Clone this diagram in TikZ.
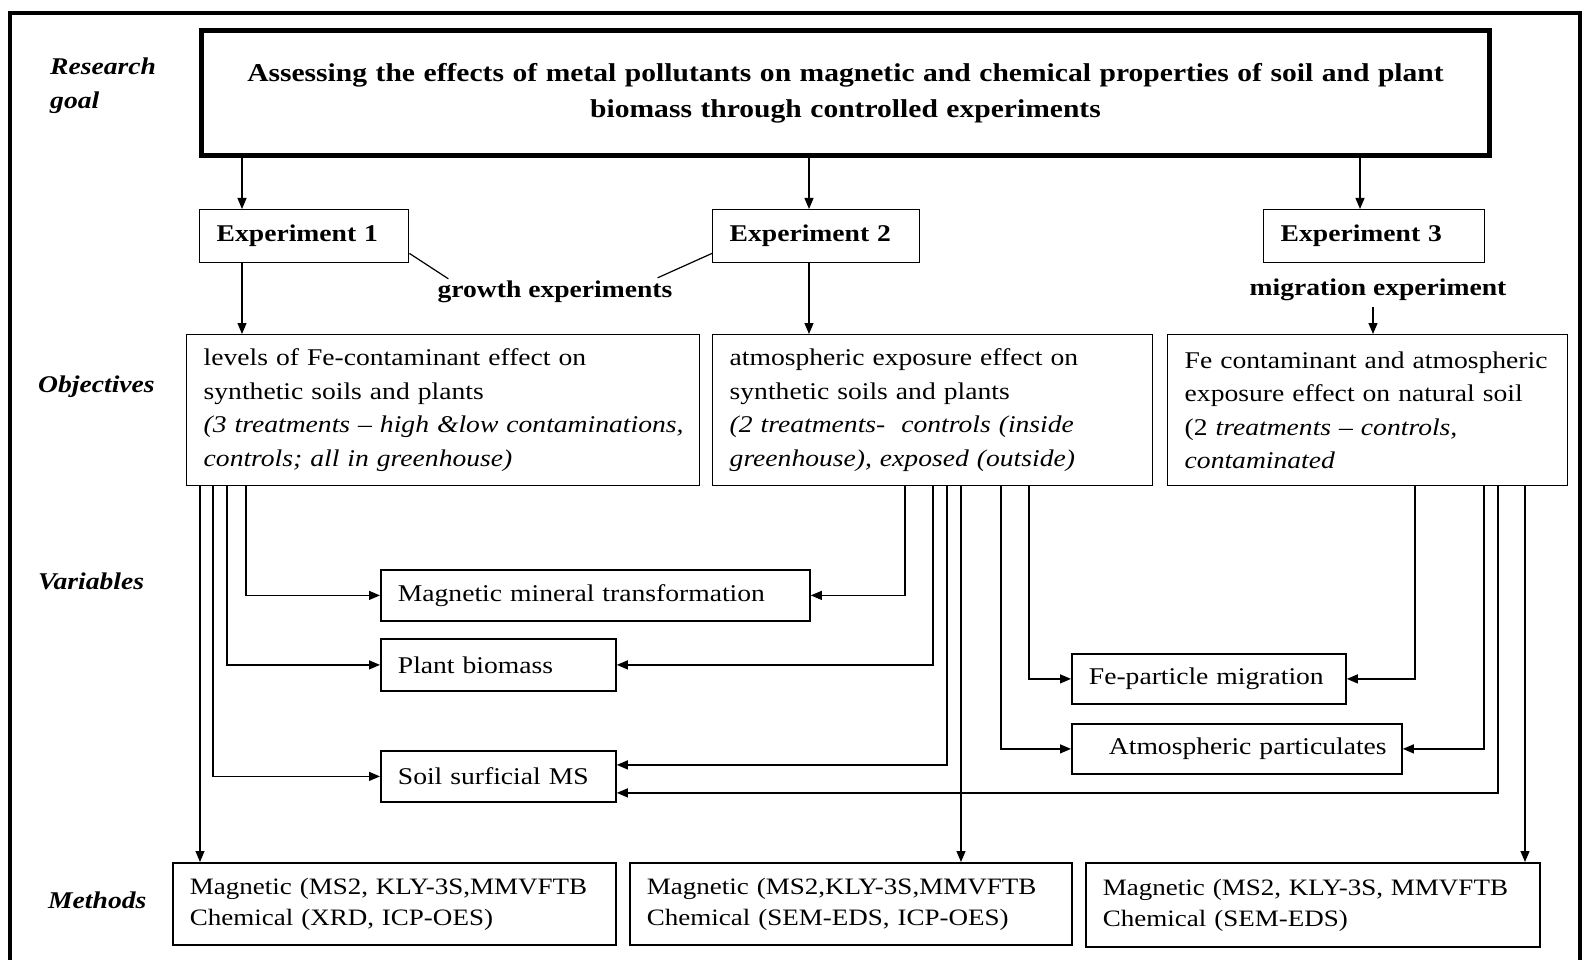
\documentclass[tikz,border=0pt]{standalone}
\usepackage{fontspec}
\setmainfont{Liberation Serif}[FakeStretch=1.15]
\usetikzlibrary{arrows.meta}
\newcommand\oneline[1]{\mbox{#1}}
\begin{document}
\begin{tikzpicture}[x=1pt,y=-1pt,
  txt/.style={font=\fontsize{24pt}{33.5pt}\selectfont},
  box/.style={txt, draw, line width=1.4pt, inner xsep=17pt, inner ysep=0pt, align=left, anchor=north west},
  varbox/.style={box, line width=1.8pt},
  methbox/.style={box, line width=1.8pt, font=\fontsize{23.5pt}{31pt}\selectfont},
  expbox/.style={box, font=\fontsize{24pt}{30pt}\selectfont\bfseries},
  lab/.style={font=\fontsize{24pt}{34pt}\selectfont\bfseries\itshape, align=left, anchor=west, inner sep=0pt},
  note/.style={font=\fontsize{24pt}{30pt}\selectfont\bfseries, inner sep=0pt},
  ln/.style={line width=1.2pt},
  arr/.style={ln, -{Triangle[length=11pt,width=9pt]}}
]
\useasboundingbox (0,0) rectangle (1585,960);
\draw[line width=4.5pt] (10,962) -- (10,13) -- (1580,13) -- (1580,962);

% goal
\node[box, line width=5pt, inner xsep=12pt, text width=1264pt, minimum height=125pt, align=center, font=\fontsize{25.7pt}{36pt}\selectfont\bfseries] (goal) at (199,28) {\oneline{Assessing the effects of metal pollutants on magnetic and chemical properties of soil and plant}\\biomass through controlled experiments};

% experiments
\node[expbox, text width=175pt, minimum height=53pt] (exp1) at (199,209) {Experiment 1};
\node[expbox, text width=173pt, minimum height=53pt] (exp2) at (712,209) {Experiment 2};
\node[expbox, text width=187pt, minimum height=53pt] (exp3) at (1263,209) {Experiment 3};

% objectives
\node[box, text width=479pt, minimum height=151pt] (obj1) at (186,334) {\oneline{levels of Fe-contaminant effect on}\\\oneline{synthetic soils and plants}\\\oneline{\itshape (3 treatments – high \&low contaminations,}\\\oneline{\itshape controls; all in greenhouse)}};
\node[box, text width=406pt, minimum height=151pt] (obj2) at (712,334) {\oneline{atmospheric exposure effect on}\\\oneline{synthetic soils and plants}\\\oneline{\itshape (2 treatments-\ \ controls (inside}\\\oneline{\itshape greenhouse), exposed (outside)}};
\node[box, text width=366pt, minimum height=151pt] (obj3) at (1167,334) {\oneline{Fe contaminant and atmospheric}\\\oneline{exposure effect on natural soil}\\\oneline{(2 \textit{treatments – controls,}}\\\oneline{\itshape contaminated}};

% variables
\node[varbox, text width=395pt, minimum height=51pt] (mmt) at (380,569) {\oneline{Magnetic mineral transformation}};
\node[varbox, text width=201pt, minimum height=52pt] (plant) at (380,638) {\oneline{Plant biomass}};
\node[varbox, text width=201pt, minimum height=51pt] (soil) at (380,750) {\oneline{Soil surficial MS}};
\node[varbox, text width=240pt, minimum height=50pt] (fe) at (1071,653) {\oneline{Fe-particle migration}};
\node[varbox, text width=296pt, minimum height=50pt] (atm) at (1071,723) {\oneline{\hspace*{20pt}Atmospheric particulates}};

% methods
\node[methbox, text width=409pt, minimum height=82pt] (m1) at (172,862) {\oneline{Magnetic (MS2, KLY-3S,MMVFTB}\\\oneline{Chemical (XRD, ICP-OES)}};
\node[methbox, text width=408pt, minimum height=82pt] (m2) at (629,862) {\oneline{Magnetic (MS2,KLY-3S,MMVFTB}\\\oneline{Chemical (SEM-EDS, ICP-OES)}};
\node[methbox, text width=420pt, minimum height=84pt] (m3) at (1085,862) {\oneline{Magnetic (MS2, KLY-3S, MMVFTB}\\\oneline{Chemical (SEM-EDS)}};

% row labels
\node[lab] (rg) at (50,86) {Research\\goal};
\node[lab] (objl) at (38,387) {Objectives};
\node[lab] (varl) at (38,581) {Variables};
\node[lab] (metl) at (48,900) {Methods};

% notes
\node[note] (growth) at (555,292) {growth experiments};
\node[note] (mig) at (1378,290) {migration experiment};

% coordinates on box edges
\path ([xshift=43pt]exp1.north west) coordinate (g1)
      ([xshift=97pt]exp2.north west) coordinate (g2)
      ([xshift=97pt]exp3.north west) coordinate (g3)
      ([xshift=-5pt,yshift=-6pt]mig.south) coordinate (mg)
      ([xshift=14pt]obj1.south west) coordinate (a1)
      ([xshift=27pt]obj1.south west) coordinate (a2)
      ([xshift=41pt]obj1.south west) coordinate (a3)
      ([xshift=60pt]obj1.south west) coordinate (a4)
      ([xshift=193pt]obj2.south west) coordinate (b1)
      ([xshift=221pt]obj2.south west) coordinate (b2)
      ([xshift=235pt]obj2.south west) coordinate (b3)
      ([xshift=249pt]obj2.south west) coordinate (b4)
      ([xshift=289pt]obj2.south west) coordinate (b5)
      ([xshift=317pt]obj2.south west) coordinate (b6)
      ([xshift=248pt]obj3.south west) coordinate (c1)
      ([xshift=317pt]obj3.south west) coordinate (c2)
      ([xshift=331pt]obj3.south west) coordinate (c3)
      ([xshift=358pt]obj3.south west) coordinate (c4);

% goal -> experiments
\draw[arr] (g1 |- goal.south) -- (g1);
\draw[arr] (g2 |- goal.south) -- (g2);
\draw[arr] (g3 |- goal.south) -- (g3);

% experiments -> objectives
\draw[arr] (g1 |- exp1.south) -- (g1 |- obj1.north);
\draw[arr] (g2 |- exp2.south) -- (g2 |- obj2.north);
\draw[arr] (mg) -- (mg |- obj3.north);

% growth experiments label lines
\draw[ln] ([yshift=10pt]exp1.south east) -- ([xshift=11pt,yshift=2pt]growth.north west);
\draw[ln] ([yshift=10pt]exp2.south west) -- ([xshift=-15pt,yshift=3pt]growth.north east);

% objective 1
\draw[arr] (a4) |- (mmt.west);
\draw[arr] (a3) |- (plant.west);
\draw[arr] (a2) |- (soil.west);
\draw[arr] (a1) -- (a1 |- m1.north);

% objective 2
\draw[arr] (b1) |- (mmt.east);
\draw[arr] (b2) |- (plant.east);
\draw[arr] (b3) |- ([yshift=11.5pt]soil.east);
\draw[arr] (b4) -- (b4 |- m2.north);
\draw[arr] (b5) |- (atm.west);
\draw[arr] (b6) |- (fe.west);

% objective 3
\draw[arr] (c1) |- (fe.east);
\draw[arr] (c2) |- (atm.east);
\draw[arr] (c3) |- ([yshift=-16.5pt]soil.east);
\draw[arr] (c4) -- (c4 |- m3.north);
\end{tikzpicture}
\end{document}
